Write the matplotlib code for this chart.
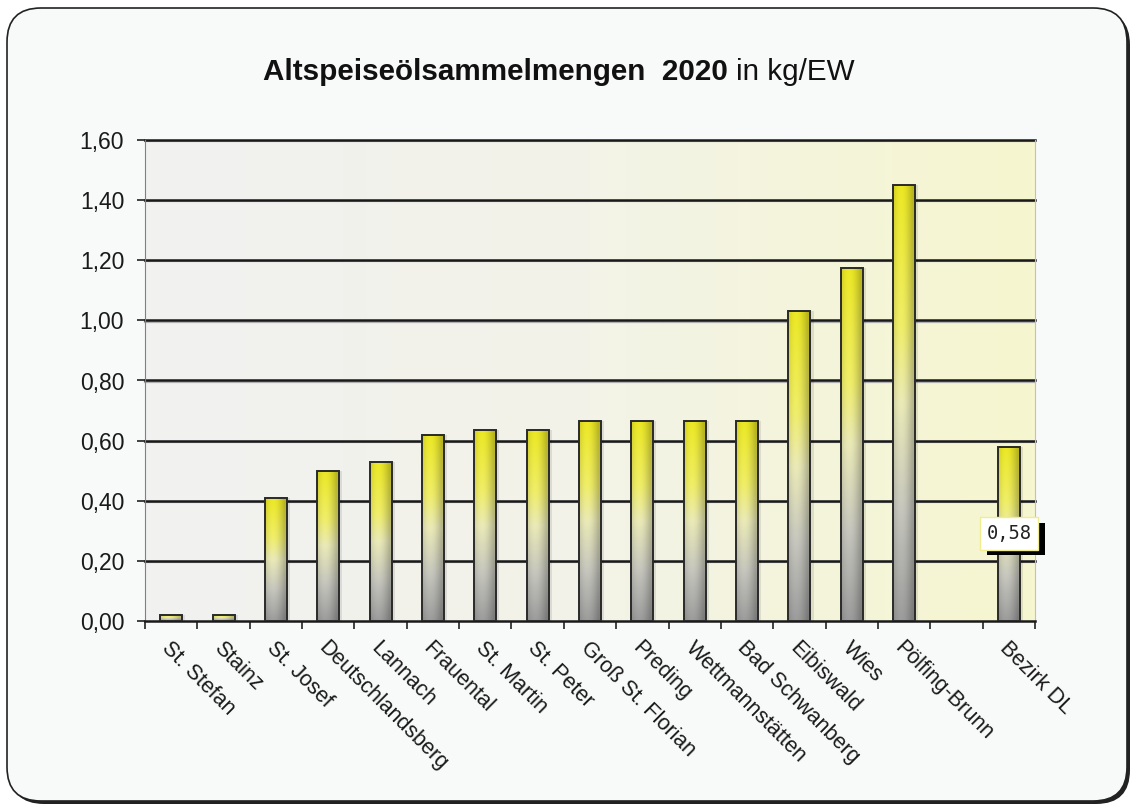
import numpy as np
import matplotlib.pyplot as plt
import matplotlib.patheffects as pe
from matplotlib.patches import FancyBboxPatch, Rectangle
from matplotlib.colors import LinearSegmentedColormap
from matplotlib.ticker import FuncFormatter

plt.rcParams["font.family"] = ["Liberation Sans", "DejaVu Sans"]

gemeinden = ["St. Stefan", "Stainz", "St. Josef", "Deutschlandsberg", "Lannach",
             "Frauental", "St. Martin", "St. Peter", "Groß St. Florian", "Preding",
             "Wettmannstätten", "Bad Schwanberg", "Eibiswald", "Wies",
             "Pölfing-Brunn", "", "Bezirk DL"]
kg_ew = [0.02, 0.02, 0.41, 0.50, 0.53, 0.62, 0.635, 0.635, 0.665, 0.665,
         0.665, 0.665, 1.03, 1.175, 1.45, np.nan, 0.58]
label_bar = "Bezirk DL"
label_text = "0,58"

fig = plt.figure(figsize=(11.32, 8.05), dpi=100)
fig.patch.set_facecolor("white")

# rounded frame with a dark shadow at the lower right
fw, fh = 1132, 805
shadow = FancyBboxPatch((10 / fw, 1 / fh), 1120 / fw, 793 / fh,
                        boxstyle="round,pad=0,rounding_size=0.03",
                        transform=fig.transFigure, facecolor="#222222",
                        edgecolor="none", zorder=0, mutation_aspect=fw / fh)
frame = FancyBboxPatch((7 / fw, 4 / fh), 1120 / fw, 793 / fh,
                       boxstyle="round,pad=0,rounding_size=0.03",
                       transform=fig.transFigure, facecolor="#f8f9f9",
                       edgecolor="#222222", linewidth=1.2, zorder=1,
                       mutation_aspect=fw / fh)
fig.patches.extend([shadow, frame])

ax = fig.add_axes([145 / fw, 1 - 621 / fh, 890 / fw, 481 / fh])
ax.set_zorder(2)
ax.patch.set_alpha(0)

n = len(gemeinden)
x = np.arange(n)
ax.set_xlim(-0.5, n - 0.5)
ax.set_ylim(0, 1.6)

# plot area background: grey on the left to pale yellow on the right
bg = LinearSegmentedColormap.from_list("bg", ["#f1f1f1", "#f3f3e8", "#f6f6cf"])
ax.imshow(np.linspace(0, 1, 256)[None, :], cmap=bg, aspect="auto",
          extent=(-0.5, n - 0.5, 0, 1.6), zorder=0)

# horizontal grid lines with a soft shadow
for yv in np.arange(0.2, 1.61, 0.2):
    ax.plot([-0.5, n - 0.5], [yv - 0.004, yv - 0.004], color="#b0b0b0",
            lw=1.6, zorder=1, clip_on=False)
    ax.plot([-0.5, n - 0.5], [yv, yv], color="#1a1a1a", lw=1.8, zorder=1.1,
            clip_on=False)

# bar fill: yellow top, pale middle, grey bottom, darker on the left edge
bar_cmap = LinearSegmentedColormap.from_list(
    "bar", [(0.0, "#9c9c9c"), (0.25, "#c6c6be"), (0.5, "#eaeab8"),
            (0.68, "#f0ee68"), (1.0, "#ece824")])
vert = np.linspace(0, 1, 200)
rgb_v = bar_cmap(vert)[:, :3]
horiz = np.linspace(0, 1, 40)
shade = 0.78 + 0.22 * np.clip(np.sin(np.pi * (0.15 + 0.95 * horiz)), 0, 1)
img = rgb_v[::-1, None, :] * shade[None, :, None]
img = np.clip(img, 0, 1)

bw = 0.42
bars = ax.bar(x, kg_ew, width=bw, facecolor="none", edgecolor="#2a2a2a",
              lw=1.4, zorder=4)
for xi, v in zip(x, kg_ew):
    if np.isnan(v):
        continue
    ax.imshow(img, aspect="auto", interpolation="bilinear",
              extent=(xi - bw / 2, xi + bw / 2, 0, v), zorder=3)
    ax.add_patch(Rectangle((xi - bw / 2 + 0.06, 0), bw, v, facecolor="#00000018",
                           edgecolor="none", zorder=2.5))

# value label for the district bar, white box with a hard black shadow
ib = gemeinden.index(label_bar)
lbl = ax.text(ib, 0.291, label_text, ha="center", va="center", fontsize=13.5,
              family=["DejaVu Sans Mono", "DejaVu Sans"], color="#222222",
              zorder=6,
              bbox=dict(boxstyle="square,pad=0.35", facecolor="white",
                        edgecolor="#f0ec90", lw=1))
lbl.get_bbox_patch().set_path_effects([
    pe.SimplePatchShadow(offset=(5, -4), shadow_rgbFace="black", alpha=1),
    pe.Normal()])

# axes styling
ax.spines["top"].set_visible(False)
ax.spines["left"].set_color("#808080")
ax.spines["right"].set_color("#c0c0c0")
ax.spines["bottom"].set_color("#1a1a1a")
ax.spines["bottom"].set_linewidth(1.8)
ax.set_yticks(np.arange(0, 1.61, 0.2))
ax.yaxis.set_major_formatter(FuncFormatter(lambda v, p: f"{v:.2f}".replace(".", ",")))
ax.tick_params(axis="y", length=6, width=1.2, color="#222222", labelsize=16.5,
               pad=9, labelcolor="#1a1a1a")

ax.set_xticks(np.arange(-0.5, n, 1.0))
ax.set_xticklabels([])
ax.tick_params(axis="x", length=6, width=1.2, color="#222222")
for xi, name in zip(x, gemeinden):
    ax.text(xi + 0.02, -0.055, name, rotation=-45, rotation_mode="anchor",
            ha="left", va="top", fontsize=15.5, color="#1a1a1a")

t = fig.text(263 / fw, 1 - 72 / fh, "Altspeiseölsammelmengen  2020", fontsize=21.3,
             fontweight="bold", ha="left", va="center", color="#111111", zorder=3)
fig.canvas.draw()
bb = t.get_window_extent()
fig.text((bb.x1 + 8) / fw, 1 - 72 / fh, "in kg/EW", fontsize=21.3,
         ha="left", va="center", color="#111111", zorder=3)

fig.savefig("out.png", dpi=100, facecolor=fig.get_facecolor())
